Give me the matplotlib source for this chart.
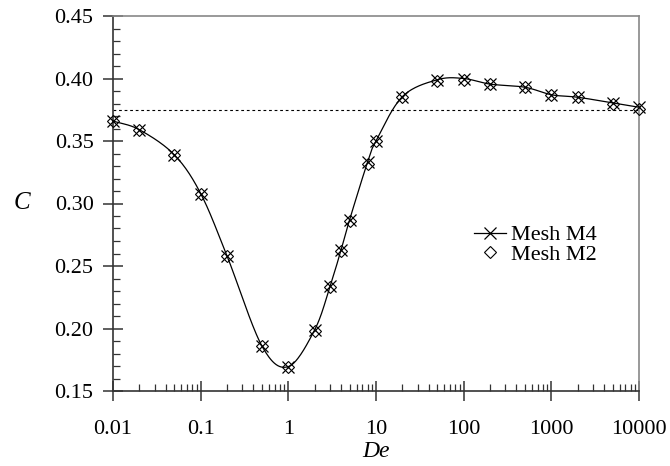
import numpy as np
import matplotlib
matplotlib.use("Agg")
import matplotlib.pyplot as plt
from matplotlib.ticker import FixedLocator, MultipleLocator, NullFormatter

# ===== DATA =====
de = [0.01, 0.02, 0.05, 0.1, 0.2, 0.5, 1, 2, 3, 4, 5, 8, 10,
      20, 50, 100, 200, 500, 1000, 2000, 5000, 10000]
c_m4 = [0.366, 0.359, 0.339, 0.308, 0.258, 0.186, 0.1695, 0.199, 0.234, 0.263,
        0.287, 0.333, 0.350, 0.3855, 0.399, 0.400, 0.3955, 0.393, 0.387,
        0.385, 0.3805, 0.377]
c_m2 = [0.366, 0.359, 0.339, 0.308, 0.258, 0.186, 0.1695, 0.198, 0.233, 0.262,
        0.286, 0.332, 0.350, 0.3855, 0.398, 0.399, 0.3955, 0.393, 0.387,
        0.385, 0.380, 0.376]
c_ref = 0.375
x_ticks = [0.01, 0.1, 1, 10, 100, 1000, 10000]
x_labels = ["0.01", "0.1", "1", "10", "100", "1000", "10000"]
y_ticks = [0.15, 0.20, 0.25, 0.30, 0.35, 0.40, 0.45]


def smooth(xs, ys, n=30):
    # Catmull-Rom through the points, in log10(x)
    u = np.log10(np.asarray(xs, float))
    v = np.asarray(ys, float)
    pu = np.concatenate([[2 * u[0] - u[1]], u, [2 * u[-1] - u[-2]]])
    pv = np.concatenate([[2 * v[0] - v[1]], v, [2 * v[-1] - v[-2]]])
    t = np.linspace(0, 1, n)
    out_u, out_v = [], []
    for i in range(1, len(pu) - 2):
        for p, out in ((pu, out_u), (pv, out_v)):
            p0, p1, p2, p3 = p[i - 1], p[i], p[i + 1], p[i + 2]
            out.extend(0.5 * (2 * p1 + (-p0 + p2) * t
                              + (2 * p0 - 5 * p1 + 4 * p2 - p3) * t ** 2
                              + (-p0 + 3 * p1 - 3 * p2 + p3) * t ** 3))
    return 10 ** np.array(out_u), np.array(out_v)


plt.rcParams['font.family'] = ['Liberation Serif', 'DejaVu Serif']
plt.rcParams['font.size'] = 16

fig = plt.figure(figsize=(6.7, 4.66), dpi=100)
ax = fig.add_axes([113 / 670, 1 - 391 / 466, 526 / 670, 375 / 466])

sx, sy = smooth(de, c_m4)
ax.plot(sx, sy, color='black', lw=0.9)
ax.plot(de, c_m4, ls='none', marker='x', ms=8, mew=0.9, color='black',
        clip_on=False, zorder=4)
ax.plot(de, c_m2, ls='none', marker='D', ms=6, mew=0.8,
        mfc='none', mec='black', clip_on=False, zorder=4)
ax.axhline(c_ref, color='black', lw=0.8, ls=(0, (2.5, 2.5)))

# legend handles
ax.plot([], [], color='black', lw=0.9, marker='x', ms=8, mew=0.9,
        label='Mesh M4')
ax.plot([], [], ls='none', marker='D', ms=6, mew=0.8, mfc='none',
        mec='black', label='Mesh M2')
h, l = ax.get_legend_handles_labels()
ax.legend(h, l, loc='upper left', bbox_to_anchor=(0.686, 0.443),
          frameon=False, handlelength=1.45, handletextpad=0.2,
          labelspacing=-0.05, borderpad=0, borderaxespad=0, fontsize=16)

ax.set_xscale('log')
ax.set_xlim(0.01, 10000)
ax.set_ylim(0.15, 0.45)
ax.xaxis.set_major_locator(FixedLocator(x_ticks))
ax.set_xticklabels(x_labels)
ax.xaxis.set_minor_locator(matplotlib.ticker.LogLocator(base=10, subs=np.arange(2, 10)))
ax.xaxis.set_minor_formatter(NullFormatter())
ax.set_yticks(y_ticks)
ax.set_yticklabels([f"{v:.2f}" for v in y_ticks])
ax.yaxis.set_minor_locator(MultipleLocator(0.01))

ax.tick_params(axis='x', which='major', direction='inout', length=14,
               width=1.1, pad=14, color='#333333')
ax.tick_params(axis='x', which='minor', direction='in', length=5,
               width=0.9, color='#333333')
ax.tick_params(axis='y', which='major', direction='inout', length=14,
               width=1.1, pad=7, color='#333333')
ax.tick_params(axis='y', which='minor', direction='in', length=5,
               width=0.9, color='#333333')

for s in ('left', 'bottom'):
    ax.spines[s].set_color('#333333')
    ax.spines[s].set_linewidth(1.2)
for s in ('top', 'right'):
    ax.spines[s].set_color('#888888')
    ax.spines[s].set_linewidth(1.2)

ax.set_xlabel('De', style='italic', fontsize=17, va='center')
ax.set_ylabel('C', style='italic', fontsize=18, rotation=0,
              ha='center', va='center')
ax.yaxis.set_label_coords(-0.173, 0.5)
ax.xaxis.set_label_coords(0.5, -0.162)

fig.savefig('out.png', dpi=100)
